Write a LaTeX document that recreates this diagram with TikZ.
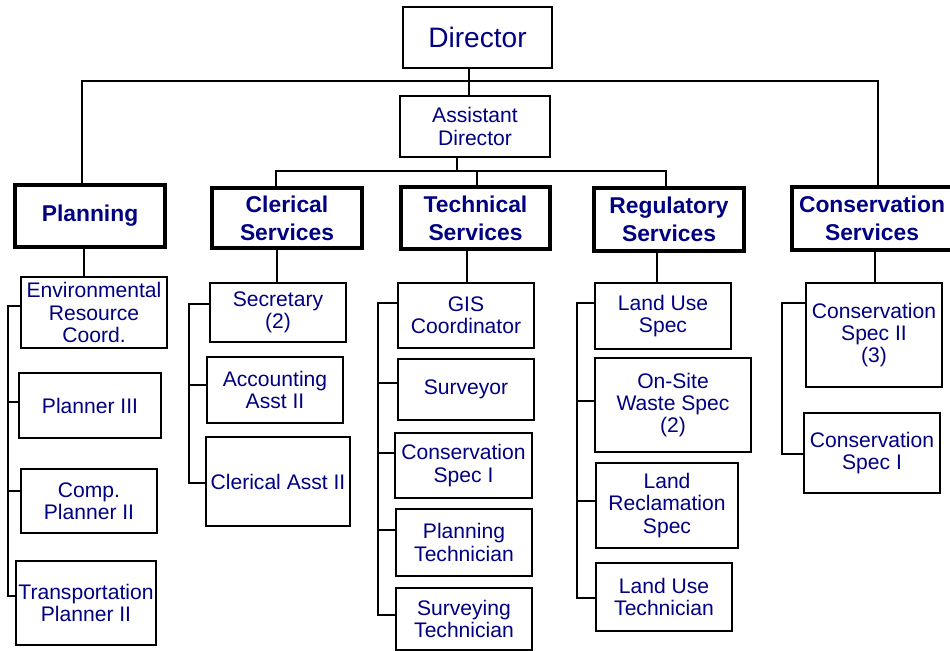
\documentclass[tikz,border=0pt]{standalone}
\usepackage{fontspec}
\setmainfont{Liberation Sans}
\usepackage{tikz}
\definecolor{jobblue}{RGB}{0,0,128}
\tikzstyle{job} = [draw, line width=1.1pt, inner sep=0pt, align=center, text=jobblue, font=\fontsize{12}{12.6}\selectfont]
\tikzstyle{unit} = [job, line width=2.3pt, font=\fontsize{13}{16}\selectfont\bfseries]
\tikzstyle{line} = [line width=1.1pt, line cap=rect]

\begin{document}
\begin{tikzpicture}[x=0.02cm, y=-0.02cm]
        \useasboundingbox (0,0) rectangle (950,651);
        % top of the chart
        \node[job, minimum width=2.98cm, minimum height=1.22cm, font=\fontsize{16}{18}\selectfont] (dir) at (477.5,37.5) {Director};
        \node[job, minimum width=3cm, minimum height=1.22cm] (asst) at (475,126.5) {Assistant\\Director};
        % sections
        \node[unit, minimum width=3cm, minimum height=1.24cm] (plan) at (90,216) {Planning};
        \node[unit, minimum width=3cm, minimum height=1.2cm] (cler) at (287,218) {Clerical\\Services};
        \node[unit, minimum width=2.98cm, minimum height=1.24cm] (tech) at (475.5,218) {Technical\\Services};
        \node[unit, minimum width=3cm, minimum height=1.26cm] (reg) at (669,219.5) {Regulatory\\Services};
        \node[unit, minimum width=3.2cm, minimum height=1.26cm] (cons) at (872,218.5) {Conservation\\Services};
        % planning staff
        \node[job, minimum width=2.92cm, minimum height=1.42cm] (env) at (94,312.5) {Environmental\\Resource\\Coord.};
        \node[job, minimum width=2.84cm, minimum height=1.3cm] (pl3) at (90,405.5) {Planner III};
        \node[job, minimum width=2.72cm, minimum height=1.28cm] (comp) at (89,501) {Comp.\\Planner II};
        \node[job, minimum width=2.8cm, minimum height=1.68cm] (trans) at (86,603) {Transportation\\Planner II};
        % clerical staff
        \node[job, minimum width=2.72cm, minimum height=1.18cm] (sec) at (278,312.5) {Secretary\\(2)};
        \node[job, minimum width=2.72cm, minimum height=1.32cm] (acc) at (275,390) {Accounting\\Asst II};
        \node[job, minimum width=2.88cm, minimum height=1.78cm] (classt) at (278,481.5) {Clerical Asst II};
        % technical staff
        \node[job, minimum width=2.72cm, minimum height=1.3cm] (gis) at (466,315.5) {GIS\\Coordinator};
        \node[job, minimum width=2.72cm, minimum height=1.22cm] (surv) at (466,389.5) {Surveyor};
        \node[job, minimum width=2.74cm, minimum height=1.3cm] (tcons) at (463.5,465.5) {Conservation\\Spec I};
        \node[job, minimum width=2.72cm, minimum height=1.34cm] (ptech) at (464,542.5) {Planning\\Technician};
        \node[job, minimum width=2.72cm, minimum height=1.24cm] (stech) at (464,619) {Surveying\\Technician};
        % regulatory staff
        \node[job, minimum width=2.72cm, minimum height=1.32cm] (lus) at (663,316) {Land Use\\Spec};
        \node[job, minimum width=3.12cm, minimum height=1.88cm] (osw) at (673,405) {On-Site\\Waste Spec\\(2)};
        \node[job, minimum width=2.84cm, minimum height=1.7cm] (lrec) at (667,505.5) {Land\\Reclamation\\Spec};
        \node[job, minimum width=2.72cm, minimum height=1.36cm] (lut) at (664,597) {Land Use\\Technician};
        % conservation staff
        \node[job, minimum width=2.72cm, minimum height=2.08cm] (cs2) at (874,335) {Conservation\\Spec II\\(3)};
        \node[job, minimum width=2.72cm, minimum height=1.6cm] (cs1) at (872,453) {Conservation\\Spec I};

        \coordinate (topbus) at (469,81);
        \coordinate (midbus) at (457,171);
        \coordinate (pbus) at (8,0);
        \coordinate (cbus) at (189,0);
        \coordinate (tbus) at (378,0);
        \coordinate (rbus) at (577,0);
        \coordinate (kbus) at (782,0);

        \draw[line] ([xshift=-0.16cm]plan.north) |- (topbus) -| ([xshift=0.12cm]cons.north);
        \draw[line] ([xshift=-0.17cm]dir.south) -- ([xshift=-0.12cm]asst.north);
        \draw[line] ([xshift=-0.36cm]asst.south) -- (midbus);
        \draw[line] ([xshift=-0.22cm]cler.north) |- (midbus) -| ([xshift=-0.06cm]reg.north);
        \draw[line] ([xshift=0.03cm]tech.north) |- (midbus);

        \draw[line] ([xshift=-0.12cm]plan.south) -- ([xshift=-0.2cm]env.north);
        \draw[line] ([xshift=-0.2cm]cler.south) -- ([xshift=-0.02cm]sec.north);
        \draw[line] ([xshift=-0.17cm]tech.south) -- ([xshift=0.02cm]gis.north);
        \draw[line] ([xshift=-0.24cm]reg.south) -- ([xshift=-0.12cm]lus.north);
        \draw[line] ([xshift=0.06cm]cons.south) -- ([xshift=0.02cm]cs2.north);

        \foreach \n/\dy in {env/6.5, pl3/3.5, comp/10, trans/7}
            \draw[line] ([yshift=\dy*0.02cm]\n.west) coordinate (t\n) -- (t\n -| pbus);
        \draw[line] (tenv -| pbus) -- (ttrans -| pbus);
        \foreach \n/\dy in {sec/8.5, acc/5, classt/-1.5}
            \draw[line] ([yshift=\dy*0.02cm]\n.west) coordinate (t\n) -- (t\n -| cbus);
        \draw[line] (tsec -| cbus) -- (tclasst -| cbus);
        \foreach \n/\dy in {gis/12.5, surv/6.5, tcons/12.5, ptech/12.5, stech/4}
            \draw[line] ([yshift=\dy*0.02cm]\n.west) coordinate (t\n) -- (t\n -| tbus);
        \draw[line] (tgis -| tbus) -- (tstech -| tbus);
        \foreach \n/\dy in {lus/13, osw/4, lrec/4.5, lut/-1}
            \draw[line] ([yshift=\dy*0.02cm]\n.west) coordinate (t\n) -- (t\n -| rbus);
        \draw[line] (tlus -| rbus) -- (tlut -| rbus);
        \foreach \n/\dy in {cs2/32, cs1/-1}
            \draw[line] ([yshift=\dy*0.02cm]\n.west) coordinate (t\n) -- (t\n -| kbus);
        \draw[line] (tcs2 -| kbus) -- (tcs1 -| kbus);
\end{tikzpicture}
\end{document}
